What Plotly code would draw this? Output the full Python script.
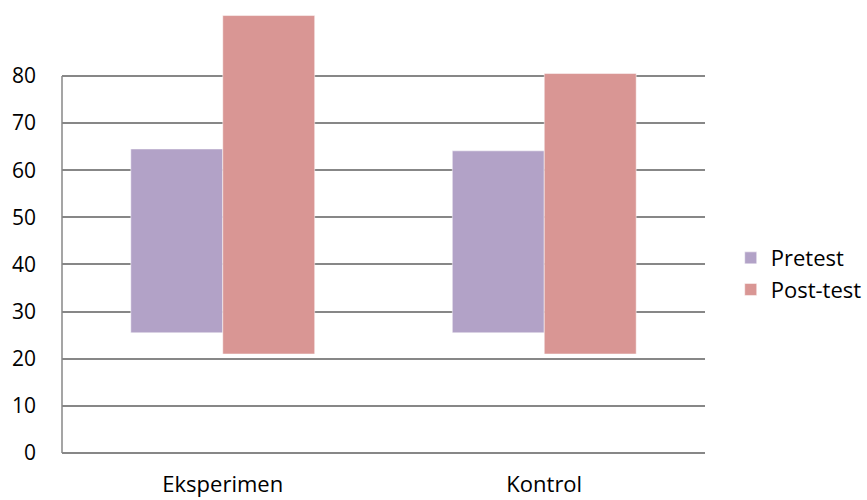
import plotly.graph_objects as go

categories = ["Eksperimen", "Kontrol"]
pretest_low = [25.5, 25.5]
pretest_high = [64.5, 64.1]
posttest_low = [21.0, 21.0]
posttest_high = [92.8, 80.5]
y_ticks = [0, 10, 20, 30, 40, 50, 60, 70, 80]

font_family = "'Open Sans', sans-serif"
grid_color = "#878787"

fig = go.Figure()
fig.add_trace(go.Bar(
    name="Pretest", x=categories,
    y=[h - l for h, l in zip(pretest_high, pretest_low)], base=pretest_low,
    marker=dict(color="#B2A2C7", line=dict(color="#ffffff", width=0.5)),
))
fig.add_trace(go.Bar(
    name="Post-test", x=categories,
    y=[h - l for h, l in zip(posttest_high, posttest_low)], base=posttest_low,
    marker=dict(color="#D99694", line=dict(color="#ffffff", width=0.5)),
))

# y-axis line only spanning the tick range (0..80)
fig.add_shape(type="line", xref="paper", yref="y", x0=0, x1=0,
              y0=y_ticks[0], y1=y_ticks[-1],
              line=dict(color=grid_color, width=1.5), layer="above")

fig.update_layout(
    width=867, height=500,
    margin=dict(l=62, r=162, t=0, b=47, autoexpand=False),
    paper_bgcolor="white", plot_bgcolor="white",
    barmode="group", bargap=0.428, bargroupgap=0,
    font=dict(family=font_family, size=20, color="#000000"),
    showlegend=True,
    legend=dict(x=1.040, y=0.395, xanchor="left", yanchor="middle",
                font=dict(size=22), tracegroupgap=0, itemwidth=30),
    xaxis=dict(showgrid=False, showline=False, ticks="", ticklabelstandoff=16,
               tickfont=dict(size=22)),
    yaxis=dict(range=[0, 96.1], tickvals=y_ticks, showgrid=True,
               gridcolor=grid_color, gridwidth=1.5, showline=False,
               zeroline=True, zerolinecolor=grid_color, zerolinewidth=1.5,
               ticks="", ticklabelstandoff=25, tickfont=dict(size=21)),
)

fig.write_html("out.html")
